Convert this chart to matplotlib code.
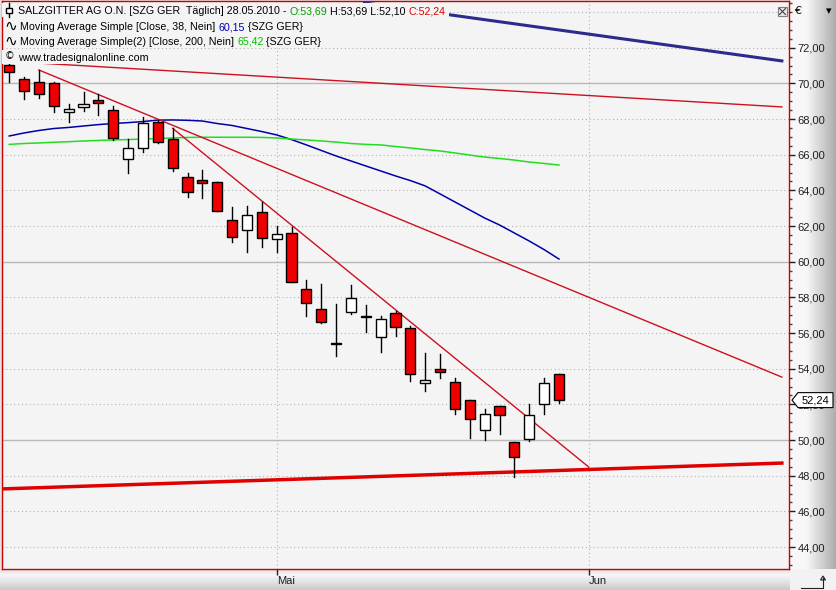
import matplotlib
matplotlib.use("Agg")
import matplotlib.pyplot as plt
import numpy as np
import pandas as pd
from matplotlib.patches import Rectangle, Polygon
from matplotlib.ticker import FuncFormatter, MultipleLocator
from matplotlib.transforms import IdentityTransform, blended_transform_factory

# SALZGITTER AG O.N. daily candles, 07.04.2010 - 28.05.2010
dates = pd.bdate_range("2010-04-07", periods=38)
opens = [71.03, 70.25, 70.06, 70.01, 68.41, 68.69, 69.07, 68.51, 65.74, 66.39,
         67.85, 66.86, 64.73, 64.58, 64.45, 62.34, 61.78, 62.77, 61.27, 61.59,
         58.47, 57.35, 55.40, 57.16, 56.95, 55.79, 57.14, 56.26, 53.18, 53.98,
         53.24, 52.23, 50.54, 51.89, 49.87, 50.04, 52.02, 53.69]
highs = [71.26, 70.36, 70.75, 70.06, 68.83, 69.50, 69.39, 68.75, 66.86, 68.10,
         67.95, 67.48, 64.99, 65.14, 64.45, 63.05, 63.12, 63.37, 62.00, 61.93,
         58.97, 58.73, 57.61, 58.68, 57.55, 56.95, 57.25, 56.37, 54.90, 54.82,
         53.46, 52.23, 51.74, 51.89, 49.90, 52.02, 53.46, 53.69]
lows = [70.06, 69.13, 69.16, 68.38, 67.85, 68.47, 68.23, 66.83, 64.96, 66.17,
        66.64, 65.10, 63.65, 63.59, 62.84, 61.12, 60.56, 60.81, 60.56, 58.84,
        56.97, 56.55, 54.73, 57.05, 56.07, 54.95, 55.85, 53.33, 52.75, 53.49,
        51.44, 50.13, 49.98, 50.32, 47.91, 49.96, 51.46, 52.10]
closes = [70.62, 69.57, 69.39, 68.75, 68.56, 68.84, 68.92, 66.95, 66.36, 67.80,
          66.73, 65.27, 63.89, 64.40, 62.84, 61.37, 62.60, 61.33, 61.54, 58.84,
          57.67, 56.63, 55.44, 57.95, 56.88, 56.77, 56.32, 53.68, 53.37, 53.80,
          51.72, 51.16, 51.44, 51.39, 49.03, 51.39, 53.18, 52.24]
ma38 = [67.05, 67.22, 67.36, 67.47, 67.53, 67.61, 67.69, 67.75, 67.80, 67.86,
        67.94, 67.95, 67.93, 67.89, 67.75, 67.64, 67.47, 67.30, 67.11, 66.85,
        66.55, 66.24, 65.93, 65.65, 65.37, 65.09, 64.81, 64.55, 64.25, 63.80,
        63.35, 62.90, 62.45, 62.06, 61.61, 61.16, 60.68, 60.15]
ma200 = [66.58, 66.63, 66.66, 66.70, 66.73, 66.77, 66.80, 66.83, 66.85, 66.88,
         66.91, 66.94, 66.97, 66.98, 66.98, 66.98, 66.98, 66.97, 66.94, 66.88,
         66.83, 66.77, 66.71, 66.63, 66.58, 66.55, 66.46, 66.38, 66.29, 66.21,
         66.10, 65.98, 65.87, 65.79, 65.70, 65.59, 65.51, 65.42]

# hand drawn trend lines: (bar index start/end, price start/end)
trend_blue = ([23.9, 52.0], [74.51, 71.26])
trend_red_top = ([-0.5, 52.0], [71.26, 68.68])
trend_red_mid = ([2.0, 52.0], [70.75, 53.53])
trend_red_steep = ([11.0, 39.0], [67.48, 48.49])
trend_support = ([-0.5, 52.0], [47.26, 48.71])

month_starts = ["2010-05-03", "2010-06-01"]
month_labels = ["Mai", "Jun"]

W, H = 836, 590
BG = "#f4f4f4"
FONT = "Liberation Sans"

fig = plt.figure(figsize=(W / 100, H / 100), dpi=100)
fig.patch.set_facecolor("#e4e4e4")

# gray panels around the chart
bg = fig.add_axes([0, 0, 1, 1])
bg.set_axis_off()
hgrad = np.concatenate([np.full(16, 0.97), np.linspace(0.97, 0.68, 30)])
bg.imshow(np.dstack([hgrad, hgrad, hgrad]).repeat(2, 0),
          extent=(790, W, 21, H), aspect="auto")
vgrad = np.concatenate([np.linspace(0.88, 0.96, 6), np.linspace(0.96, 0.80, 15)])
bg.imshow(np.dstack([vgrad, vgrad, vgrad]).reshape(-1, 1, 3).repeat(2, 1),
          extent=(0, 790, 0, 21), aspect="auto")
bg.add_patch(Rectangle((790, 0), 46, 21, fc="#f2f2f2", ec="none"))
bg.set_xlim(0, W)
bg.set_ylim(0, H)

ax = fig.add_axes([2 / W, 21 / H, 787.3 / W, 568 / H])
ax.set_zorder(1)
ax.set_facecolor(BG)
ax.set_xlim(-0.485, 52.5)
ax.set_ylim(42.77, 74.62)

# grid
for v in np.arange(44, 75, 2):
    if v % 10 == 0:
        ax.axhline(v, color="#b8b8b8", lw=1, zorder=0)
    else:
        ax.axhline(v, color="#b4b4b4", lw=0.8, ls=(0, (1, 2.5)), zorder=0)
month_idx = [len(pd.bdate_range(dates[0], m)) - 1 for m in month_starts]
for m in month_idx:
    ax.axvline(m, color="#b4b4b4", lw=0.8, ls=(0, (1, 2.5)), zorder=0)

# moving averages
x = np.arange(len(dates))
ax.plot(x, ma38, color="#0000a8", lw=1.1, zorder=2)
ax.plot(x, ma200, color="#22dd22", lw=1.1, zorder=2)

# trend lines
ax.plot(*trend_blue, color="#2b2b8c", lw=2.2, zorder=3, clip_on=False)
ax.plot(*trend_red_top, color="#cc1020", lw=1, zorder=3)
ax.plot(*trend_red_mid, color="#cc1020", lw=1, zorder=3)
ax.plot(*trend_red_steep, color="#cc1020", lw=1, zorder=3)
ax.plot(*trend_support, color="#e00000", lw=2.5, zorder=3)

# candles
bw = 0.68
for i in range(len(dates)):
    o, h, l, c = opens[i], highs[i], lows[i], closes[i]
    ax.plot([i, i], [l, h], color="black", lw=1, zorder=4)
    fc = "white" if c >= o else "#ee0000"
    lo = min(o, c)
    ht = max(abs(c - o), 0.02)
    ax.add_patch(Rectangle((i - bw / 2, lo), bw, ht, facecolor=fc,
                           edgecolor="black", lw=1, zorder=5))

for s in ax.spines.values():
    s.set_color("#cc0000")
    s.set_linewidth(1)

# axes ticks
ax.yaxis.tick_right()
ax.set_yticks(np.arange(44, 73, 2))
ax.yaxis.set_minor_locator(MultipleLocator(0.5))
ax.yaxis.set_major_formatter(FuncFormatter(lambda v, p: f"{v:.2f}".replace(".", ",")))
ax.tick_params(axis="y", which="major", length=4, width=1, pad=2, labelsize=8,
               colors="#202020")
ax.tick_params(axis="y", which="minor", length=2, width=1, colors="#404040")
for t in ax.get_yticklabels():
    t.set_fontfamily(FONT)
ax.set_xticks(month_idx)
ax.set_xticklabels(month_labels, fontsize=8, fontfamily=FONT, ha="left")
ax.tick_params(axis="x", length=4, width=1, pad=1, colors="#202020")

# legend header
rend = fig.canvas.get_renderer()
ident = IdentityTransform()


def header(y, parts, xpos):
    x0 = xpos
    for s, c in parts:
        t = fig.text(xpos, H - y - 4, s, color=c, fontsize=7.7,
                     fontfamily=[FONT, "DejaVu Sans"], va="baseline", ha="left",
                     transform=ident, zorder=10)
        xpos = t.get_window_extent(rend).x1
    fig.add_artist(Rectangle((x0 - 16, H - y - 7), xpos - x0 + 19, 14, fc=BG, ec="none",
                             transform=ident, zorder=9))


header(10, [("SALZGITTER AG O.N. [SZG GER  Täglich] 28.05.2010 - ", "black"),
            ("O:53,69", "#00a000"), (" H:53,69 L:52,10 ", "black"),
            ("C:52,24", "#dd0000")], 18)
header(26, [("Moving Average Simple [Close, 38, Nein] ", "black"),
            ("60,15", "#0000b0"), (" {SZG GER}", "black")], 20)
header(41, [("Moving Average Simple(2) [Close, 200, Nein] ", "black"),
            ("65,42", "#00c000"), (" {SZG GER}", "black")], 20)
header(57, [("www.tradesignalonline.com", "black")], 18)
for yy in (26, 41):
    fig.text(4, H - yy, "∿", fontsize=11, fontfamily="DejaVu Sans", va="center",
             transform=ident, zorder=10)
fig.text(5, H - 56, "©", fontsize=7, fontfamily="DejaVu Sans", va="center",
         transform=ident, zorder=10)
# candle icon
fig.add_artist(plt.Line2D([9, 9], [H - 17, H - 3], color="black", lw=1, transform=ident,
                          zorder=10))
fig.add_artist(Rectangle((6, H - 13), 6, 5, fc="white", ec="black", lw=1, transform=ident,
                         zorder=11))

# top right
fig.text(794, H - 11, "€", fontsize=8, fontfamily="DejaVu Sans", va="center",
         transform=ident)
fig.text(829, H - 11, "▾", fontsize=8, fontfamily="DejaVu Sans", va="center",
         ha="center", transform=ident)
fig.add_artist(Rectangle((778, H - 16), 9, 9, fc="#e8e8e8", ec="#808080", lw=0.8,
                         transform=ident, zorder=10))
fig.add_artist(plt.Line2D([779.5, 785.5], [H - 14.5, H - 8.5], color="#404040", lw=0.8,
                          transform=ident, zorder=11))
fig.add_artist(plt.Line2D([779.5, 785.5], [H - 8.5, H - 14.5], color="#404040", lw=0.8,
                          transform=ident, zorder=11))

# last price tag
tag_tr = blended_transform_factory(ident, ax.transData)
last = closes[-1]
fig.add_artist(Polygon([(792, last), (798, last + 0.42), (833, last + 0.42),
                        (833, last - 0.42), (798, last - 0.42)], closed=True,
                       fc="white", ec="black", lw=0.8, transform=tag_tr, zorder=20))
fig.text(815, last, f"{last:.2f}".replace(".", ","), fontsize=8, fontfamily=FONT,
         va="center", ha="center", transform=tag_tr, zorder=21)

# corner icon
fig.add_artist(plt.Line2D([801, 823, 823], [H - 588, H - 588, H - 578], color="#202020",
                          lw=0.8, transform=ident))
fig.add_artist(Polygon([(820.5, H - 580), (823, H - 576), (825.5, H - 580)], closed=True,
                       fc="none", ec="#202020", lw=0.8, transform=ident))

fig.savefig("out.png", dpi=100, facecolor=fig.get_facecolor())
